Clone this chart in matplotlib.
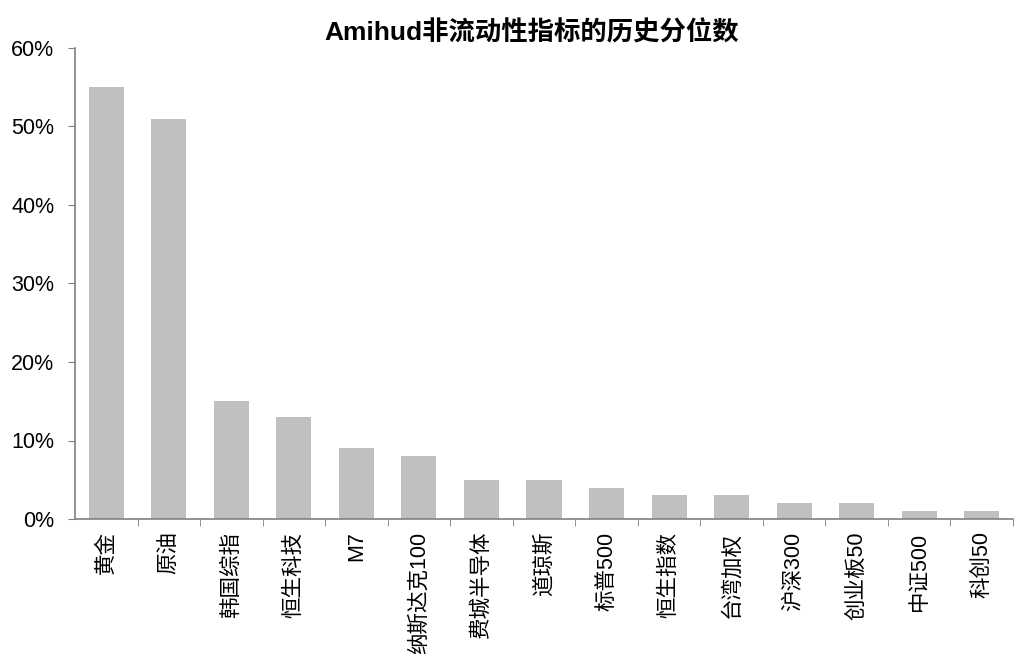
import matplotlib
matplotlib.use("Agg")
import matplotlib.pyplot as plt
from matplotlib.ticker import FuncFormatter, FixedLocator

plt.rcParams['font.family'] = ['Liberation Sans', 'Noto Sans CJK SC', 'DejaVu Sans']

title = "Amihud非流动性指标的历史分位数"
categories = ["黄金", "原油", "韩国综指", "恒生科技", "M7", "纳斯达克100", "费城半导体",
              "道琼斯", "标普500", "恒生指数", "台湾加权", "沪深300", "创业板50", "中证500", "科创50"]
values = [55, 51, 15, 13, 9, 8, 5, 5, 4, 3, 3, 2, 2, 1, 1]
yticks = [0, 10, 20, 30, 40, 50, 60]

fig = plt.figure(figsize=(10.24, 6.64), dpi=100)
ax = fig.add_axes([75/1024, 1-519/664, (1013-75)/1024, (519-48)/664])

x = list(range(len(categories)))
ax.bar(x, values, width=0.56, color='#BFBFBF', zorder=2)

ax.set_xlim(-0.5, len(categories)-0.5)
ax.set_ylim(0, 60)
ax.set_yticks(yticks)
ax.yaxis.set_major_formatter(FuncFormatter(lambda v, p: f"{int(v)}%"))
ax.tick_params(axis='y', direction='out', length=5, color='#808080', labelsize=15.5, pad=10, labelcolor='#000000')

ax.set_xticks(x)
ax.set_xticklabels(categories, rotation=90, fontsize=15.5, family=['Liberation Sans', 'Noto Sans CJK SC'])
ax.tick_params(axis='x', length=0, pad=9)
ax.xaxis.set_minor_locator(FixedLocator([i + 0.5 for i in range(len(categories))]))
ax.tick_params(axis='x', which='minor', direction='out', length=5, color='#808080')

for s in ['top', 'right']:
    ax.spines[s].set_visible(False)
for s in ['left', 'bottom']:
    ax.spines[s].set_color('#808080')
    ax.spines[s].set_linewidth(1.2)

fig.text(532/1024, 1-33/664, title, ha='center', va='center', fontsize=19, fontweight='bold',
         family=['Liberation Sans', 'Noto Sans CJK SC'])

fig.savefig("out.png", dpi=100, facecolor='white')
